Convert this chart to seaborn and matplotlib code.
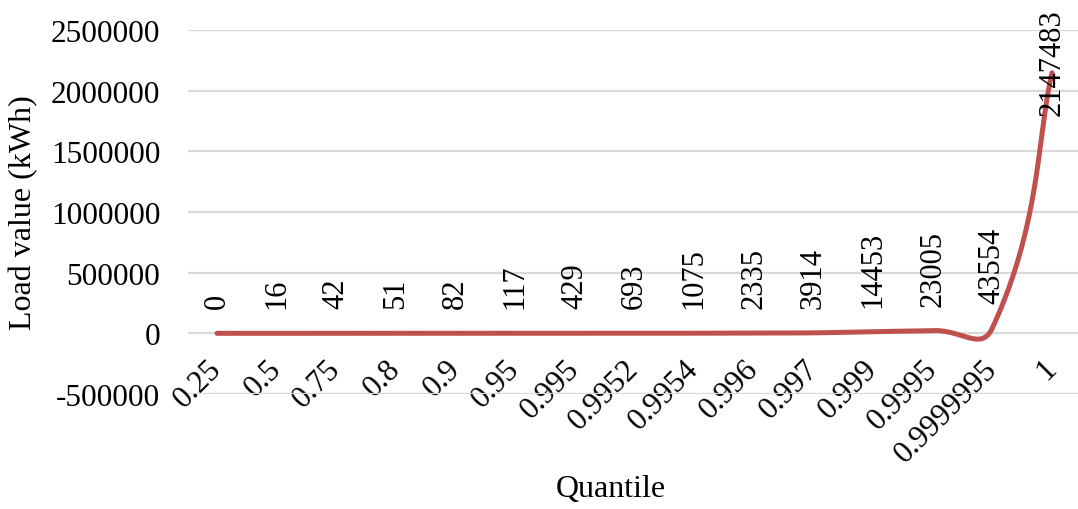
import numpy as np
import pandas as pd
import matplotlib
matplotlib.use("Agg")
import matplotlib.pyplot as plt
import seaborn as sns

# Load quantiles and the corresponding load values (kWh)
quantiles = ["0.25", "0.5", "0.75", "0.8", "0.9", "0.95", "0.995", "0.9952",
             "0.9954", "0.996", "0.997", "0.999", "0.9995", "0.9999995", "1"]
load_kwh = [0, 16, 42, 51, 82, 117, 429, 693, 1075, 2335, 3914, 14453,
            23005, 43554, 2147483]
y_ticks = [-500000, 0, 500000, 1000000, 1500000, 2000000, 2500000]

LINE_COLOR = "#C0504D"
GRID_COLOR = "#D9D9D9"

sns.set_theme(style="white")
plt.rcParams["font.family"] = ["Liberation Serif", "DejaVu Serif"]
plt.rcParams["text.color"] = "black"
plt.rcParams["axes.labelcolor"] = "black"
plt.rcParams["xtick.color"] = "black"
plt.rcParams["ytick.color"] = "black"

W, H = 1078, 510
fig = plt.figure(figsize=(W / 100, H / 100), dpi=100)
ax = fig.add_axes([188 / W, 115 / H, 890 / W, 364 / H])
ax.set_xlim(-0.486, 14.436)
ax.set_ylim(y_ticks[0], y_ticks[-1])


def smoothed_path(ax, xs, ys, s=0.5, steps=80):
    """Spreadsheet-style smoothed line: cubic Bezier segments whose control
    points follow the neighbour chord, weighted by segment length on screen."""
    pts = ax.transData.transform(np.column_stack([xs, ys]).astype(float))
    n = len(pts)
    seg = np.linalg.norm(np.diff(pts, axis=0), axis=1)
    c_in = pts.copy()
    c_out = pts.copy()
    for i in range(n):
        if i == 0:
            c_out[i] = pts[0] + (pts[1] - pts[0]) * s * 0.5
        elif i == n - 1:
            c_in[i] = pts[i] - (pts[i] - pts[i - 1]) * s * 0.5
        else:
            tan = pts[i + 1] - pts[i - 1]
            tot = seg[i - 1] + seg[i]
            c_in[i] = pts[i] - tan * s * seg[i - 1] / tot
            c_out[i] = pts[i] + tan * s * seg[i] / tot
    t = np.linspace(0, 1, steps)[:, None]
    curve = [pts[:1]]
    for i in range(n - 1):
        p0, p1, p2, p3 = pts[i], c_out[i], c_in[i + 1], pts[i + 1]
        b = ((1 - t) ** 3) * p0 + 3 * ((1 - t) ** 2) * t * p1 \
            + 3 * (1 - t) * t ** 2 * p2 + t ** 3 * p3
        curve.append(b[1:])
    curve = np.vstack(curve)
    return ax.transData.inverted().transform(curve)


xpos = np.arange(len(quantiles))
curve = smoothed_path(ax, xpos, load_kwh)
df = pd.DataFrame({"x": curve[:, 0], "y": curve[:, 1]})

sns.lineplot(data=df, x="x", y="y", sort=False, estimator=None,
             color=LINE_COLOR, linewidth=3.6, solid_capstyle="round",
             ax=ax, zorder=3)

# Value labels above each point
for i, v in enumerate(load_kwh):
    if i == len(load_kwh) - 1:
        ax.annotate(str(v), xy=(i, v), xytext=(0, 8), textcoords="offset points",
                    rotation=90, ha="center", va="center", fontsize=22,
                    annotation_clip=False)
    else:
        ax.annotate(str(v), xy=(i, v), xytext=(0, 18), textcoords="offset points",
                    rotation=90, ha="center", va="bottom", fontsize=22)

# Axes styling: category axis crosses at zero
ax.spines["bottom"].set_position(("data", 0))
for sp in ax.spines.values():
    sp.set_visible(False)

ax.set_xticks(xpos)
ax.set_xticklabels(quantiles, rotation=45, ha="right", va="center",
                   rotation_mode="anchor", fontsize=22.5)
ax.set_yticks(y_ticks)
ax.set_yticklabels([str(v) for v in y_ticks], fontsize=22.5)
ax.tick_params(axis="x", length=0, pad=22)
ax.tick_params(axis="y", length=0, pad=20)

ax.yaxis.grid(True, color=GRID_COLOR, linewidth=1.6)
ax.xaxis.grid(False)
ax.set_axisbelow(True)

ax.set_xlabel("")
ax.set_ylabel("")
fig.text(24 / W, 1 - 213 / H, "Load value (kWh)", rotation=90,
         ha="center", va="center", fontsize=23)
fig.text(611 / W, 1 - 490 / H, "Quantile", ha="center", va="center", fontsize=23)

fig.savefig("out.png", dpi=100)
